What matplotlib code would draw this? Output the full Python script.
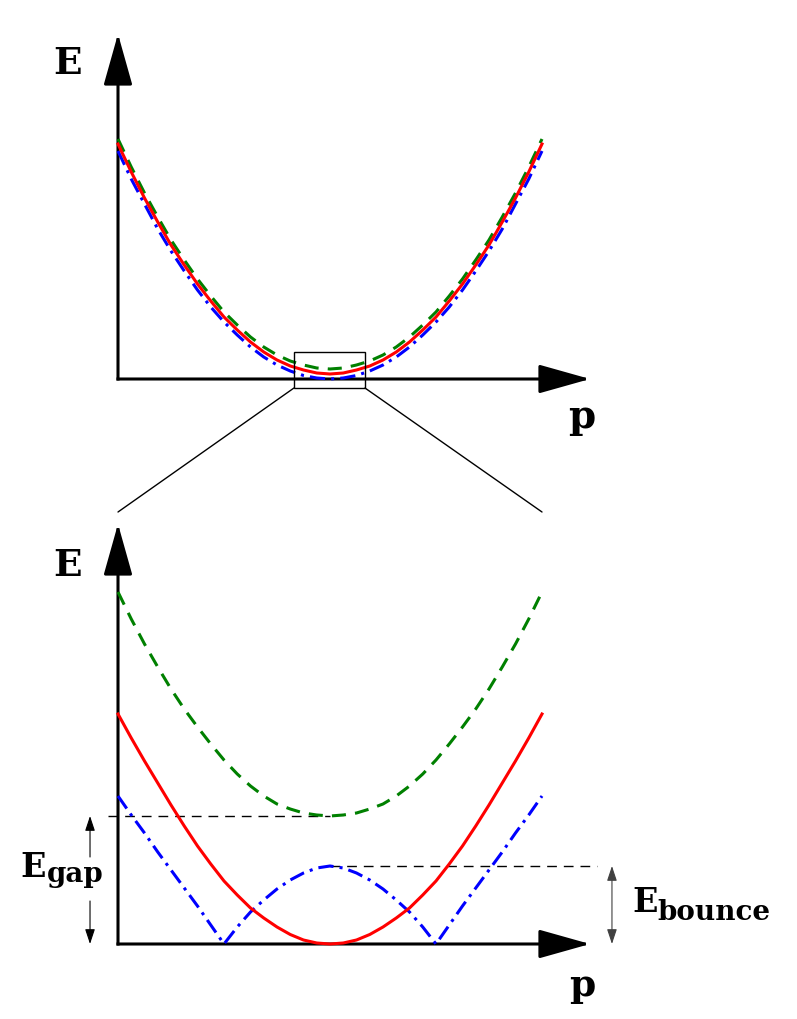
import matplotlib
matplotlib.use('Agg')
import matplotlib.pyplot as plt
from matplotlib.patches import Rectangle, ConnectionPatch

p = [-1, -0.9375, -0.875, -0.8125, -0.75, -0.6875, -0.625, -0.5625, -0.5,
     -0.4375, -0.375, -0.3125, -0.25, -0.1875, -0.125, -0.0625, 0,
     0.0625, 0.125, 0.1875, 0.25, 0.3125, 0.375, 0.4375, 0.5,
     0.5625, 0.625, 0.6875, 0.75, 0.8125, 0.875, 0.9375, 1]

# overview panel (top)
top_red = [235, 207, 181, 157, 134, 114, 95, 78, 62, 49, 37, 27, 19, 13, 9, 6, 5,
           6, 9, 13, 19, 27, 37, 49, 62, 78, 95, 114, 134, 157, 181, 207, 235]
top_green = [240, 212, 186, 162, 139, 119, 100, 83, 67, 54, 42, 32, 24, 18, 14, 11, 10,
             11, 14, 18, 24, 32, 42, 54, 67, 83, 100, 119, 139, 162, 186, 212, 240]
top_blue = [228, 200, 175, 150, 128, 108, 89, 72, 57, 44, 32, 22, 14, 8, 3.5, 1, 0,
            1, 3.5, 8, 14, 22, 32, 44, 57, 72, 89, 108, 128, 150, 175, 200, 228]

# zoomed panel (bottom)
red = [230, 206, 183, 161, 139, 118, 98, 80, 63, 49, 36, 26, 17, 9.5, 4, 1, 0,
       1, 4, 9.5, 17, 26, 36, 49, 63, 80, 98, 118, 139, 161, 183, 206, 230]
green = [352, 325, 300, 277, 255, 235, 217, 200, 184, 170, 158, 148, 140, 135, 131, 129, 128,
         129, 131, 135, 140, 148, 158, 170, 184, 200, 217, 235, 255, 277, 300, 325, 352]
blue = [148, 129, 111, 92, 74, 56, 38, 19, 0, 17, 32, 44, 55, 64, 71, 76, 78,
        76, 71, 64, 55, 44, 32, 17, 0, 19, 38, 56, 74, 92, 111, 129, 148]

e_gap = min(green)
e_bounce = blue[p.index(0)]

W, H = 797, 1020
fig = plt.figure(figsize=(W / 100, H / 100), dpi=100)

LBL = dict(family='DejaVu Serif', weight='bold', color='k')
RED = dict(color='#ff0000', lw=2.2, zorder=4, clip_on=False)
GRN = dict(color='#008000', lw=2.2, ls=(0, (4.6, 3)), zorder=3, clip_on=False)
BLU = dict(color='#0000ff', lw=2.2, ls=(0, (5, 2, 1, 2)), zorder=3, clip_on=False)


def px_axes(x0, y0, x1, y1):
  # axes box given in pixels (origin top-left)
  ax = fig.add_axes([x0 / W, 1 - y1 / H, (x1 - x0) / W, (y1 - y0) / H])
  ax.axis('off')
  return ax


def axis_arrows(ax):
  kw = dict(arrowstyle='-|>,head_length=3.2,head_width=0.9', mutation_scale=10,
            lw=2.2, color='k', shrinkA=0, shrinkB=0, capstyle='projecting')
  for tip in [(1, 0), (0, 1)]:
    ax.annotate('', xy=tip, xytext=(0, 0), xycoords='axes fraction',
                textcoords='axes fraction', arrowprops=kw,
                annotation_clip=False, zorder=1)


# --- top: overview ---
ax1 = px_axes(118, 35, 590, 380)
ax1.set_xlim(-1, 260 / 212)
ax1.set_ylim(0, 345)
axis_arrows(ax1)
ax1.plot(p, top_green, **GRN)
ax1.plot(p, top_blue, **BLU)
ax1.plot(p, top_red, **RED)
ax1.add_patch(Rectangle((-0.17, -9), 0.335, 36, fill=False, lw=1.0,
                        ec='k', zorder=5, clip_on=False))
ax1.text(-1.236, 316, 'E', fontsize=27, ha='center', va='center', **LBL)
ax1.text(1.189, -37, 'p', fontsize=28, ha='center', va='center', **LBL)

# --- bottom: zoom ---
ax2 = px_axes(118, 525, 590, 945)
ax2.set_xlim(-1, 260 / 212)
ax2.set_ylim(0, 420)
axis_arrows(ax2)
ax2.plot(p, green, **GRN)
ax2.plot(p, blue, **BLU)
ax2.plot(p, red, **RED)

ax2.plot([-1.047, 0], [e_gap, e_gap], color='k', lw=1.0, ls=(0, (7, 5)),
         zorder=2, clip_on=False)
ax2.plot([0, 1.26], [e_bounce, e_bounce], color='k', lw=1.0, ls=(0, (7, 5)),
         zorder=2, clip_on=False)

small = dict(arrowstyle='-|>,head_length=0.9,head_width=0.3', mutation_scale=10,
             lw=0.8, color='k', shrinkA=0, shrinkB=0)
ax2.annotate('', xy=(-1.132, e_gap), xytext=(-1.132, e_gap - 41),
             arrowprops=small, annotation_clip=False)
ax2.annotate('', xy=(-1.132, 0), xytext=(-1.132, 43),
             arrowprops=small, annotation_clip=False)
ax2.annotate('', xy=(1.33, 0), xytext=(1.33, e_bounce),
             arrowprops=dict(small, arrowstyle='<|-|>,head_length=0.9,head_width=0.3',
                             color='0.25'),
             annotation_clip=False)

ax2.text(-1.236, 380, 'E', fontsize=27, ha='center', va='center', **LBL)
ax2.text(1.189, -41, 'p', fontsize=27, ha='center', va='center', **LBL)
ax2.text(-1.462, 68, 'E', fontsize=24, ha='left', va='baseline', **LBL)
ax2.text(-1.335, 63, 'gap', fontsize=20, ha='left', va='baseline', **LBL)
ax2.text(1.425, 33, 'E', fontsize=24, ha='left', va='baseline', **LBL)
ax2.text(1.542, 25, 'bounce', fontsize=20, ha='left', va='baseline', **LBL)

# zoom guide lines from the box to the lower panel
for xa, xb in [(-0.17, -1), (0.165, 1)]:
  fig.add_artist(ConnectionPatch(xyA=(xa, -9), coordsA=ax1.transData,
                                 xyB=(xb, 432), coordsB=ax2.transData,
                                 lw=1.0, color='k'))

fig.savefig('out.png', dpi=100)
